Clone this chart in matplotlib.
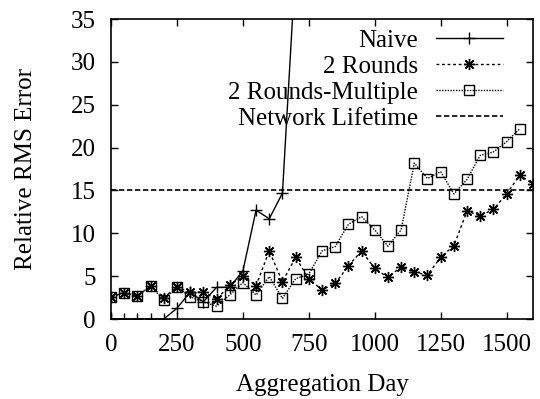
import numpy as np
import matplotlib
matplotlib.use('Agg')
import matplotlib.pyplot as plt

plt.rcParams['font.family'] = ['Liberation Serif', 'DejaVu Serif']
plt.rcParams['font.size'] = 18

# Naive
naive_day = [0, 50, 100, 150, 200, 250, 300, 350, 400, 450, 500, 550, 600, 650, 700]
naive_err = [0, 0, 0, 0, 0, 1.25, 3.15, 2.0, 3.7, 3.7, 5.6, 12.7, 11.7, 14.7, 41.4]

# 2 Rounds
r2_day = list(range(0, 1601, 50))
r2_err = [2.6, 3.05, 2.7, 3.85, 2.5, 3.75, 3.1, 3.15, 2.3, 3.95, 5.0, 3.9, 7.95,
          4.35, 7.2, 4.7, 3.4, 4.15, 6.2, 7.95, 5.9, 4.85, 6.1, 5.45, 5.15, 7.2,
          8.55, 12.6, 12.05, 12.8, 14.6, 16.8, 15.75]

# 2 Rounds-Multiple
r2m_day = list(range(0, 1551, 50))
r2m_err = [2.6, 3.05, 2.7, 3.85, 2.2, 3.75, 2.6, 2.0, 1.5, 2.8, 4.25, 2.8, 4.95,
           2.4, 4.7, 5.25, 7.95, 8.45, 11.05, 11.95, 10.4, 8.5, 10.4, 18.2, 16.4,
           17.2, 14.6, 16.3, 19.1, 19.5, 20.7, 22.2]

lifetime = 15

fig = plt.figure(figsize=(5.4, 3.99), dpi=100)
ax = fig.add_axes([0.2056, 0.2005, 0.7814, 0.7515])

ax.plot(naive_day, naive_err, '-', color='black', lw=1.0, marker='+', ms=9,
        mew=1.0, label='Naive')
ax.plot(r2_day, r2_err, color='black', lw=1.0, ls=(0, (2, 2)), marker=(8, 2, 0),
        ms=8, mew=1.0, label='2 Rounds')
ax.plot(r2m_day, r2m_err, color='black', lw=1.0, ls=(0, (1, 1)), marker='s',
        ms=7, mew=1.0, mfc='none', label='2 Rounds-Multiple')
ax.axhline(lifetime, color='black', lw=1.2, ls=(0, (3.2, 1.6)), label='Network Lifetime')

ax.set_xlim(0, 1600)
ax.set_ylim(0, 35)
ax.set_xticks([0, 250, 500, 750, 1000, 1250, 1500])
ax.set_yticks([0, 5, 10, 15, 20, 25, 30, 35])
ax.tick_params(direction='in', top=True, right=True, length=5, width=1, pad=11)
for s in ax.spines.values():
    s.set_linewidth(1.2)

ax.set_xlabel('Aggregation Day', labelpad=13)
ax.set_ylabel('Relative RMS Error', labelpad=24)

ax.legend(loc='upper right', bbox_to_anchor=(0.953, 1.0), frameon=False,
          markerfirst=False, handlelength=2.7, labelspacing=0.14,
          borderaxespad=0.0, handletextpad=0.7)

fig.savefig('out.png', dpi=100)
